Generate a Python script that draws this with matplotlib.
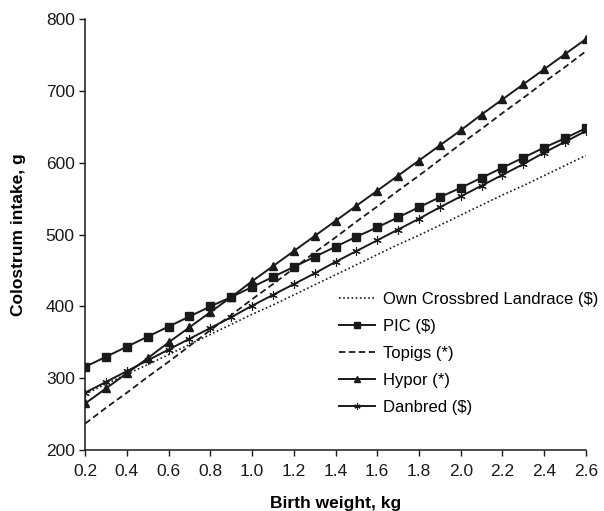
import matplotlib.pyplot as plt

plt.rcParams['font.family'] = ['Liberation Sans', 'DejaVu Sans']

# birth weight (kg)
weight = [0.2, 0.3, 0.4, 0.5, 0.6, 0.7, 0.8, 0.9, 1.0, 1.1, 1.2, 1.3, 1.4,
          1.5, 1.6, 1.7, 1.8, 1.9, 2.0, 2.1, 2.2, 2.3, 2.4, 2.5, 2.6]

# colostrum intake (g)
own_landrace = [278, 292, 306, 319, 333, 347, 361, 375, 389, 402, 416, 430, 444,
                458, 472, 486, 499, 513, 527, 541, 555, 568, 582, 596, 610]
pic = [316, 330, 344, 358, 372, 386, 400, 413, 427, 441, 455, 469, 483,
       497, 510, 524, 538, 552, 565, 579, 593, 607, 621, 634, 648]
topigs = [237, 259, 280, 302, 323, 345, 367, 388, 410, 431, 453, 475, 496,
          518, 539, 561, 582, 604, 626, 647, 669, 690, 712, 733, 755]
hypor = [265, 286, 307, 328, 350, 371, 392, 413, 435, 456, 477, 498, 519,
         540, 561, 582, 603, 624, 645, 667, 688, 709, 730, 751, 772]
danbred = [280, 295, 310, 325, 340, 355, 370, 385, 401, 416, 431, 446, 462,
           477, 492, 507, 522, 538, 553, 568, 583, 598, 614, 629, 644]

ink = '#1a1a1a'

fig = plt.figure(figsize=(6.04, 5.11), dpi=100)
ax = fig.add_axes([0.141, 0.119, 0.829, 0.844])

ax.plot(weight, own_landrace, color=ink, lw=1.2, ls=(0, (1, 1.5)),
        label='Own Crossbred Landrace ($)')
ax.plot(weight, pic, color=ink, lw=1.4, marker='s', ms=5.5,
        label='PIC ($)')
ax.plot(weight, topigs, color=ink, lw=1.3, ls=(0, (3.5, 2)),
        label='Topigs (*)')
ax.plot(weight, hypor, color=ink, lw=1.4, marker='^', ms=6,
        label='Hypor (*)')
ax.plot(weight, danbred, color=ink, lw=1.4, marker=(6, 2, 0), ms=6,
        mew=0.8, label='Danbred ($)')

ax.set_xlim(0.2, 2.6)
ax.set_ylim(200, 800)
ax.set_xticks([0.2, 0.4, 0.6, 0.8, 1.0, 1.2, 1.4, 1.6, 1.8, 2.0, 2.2, 2.4, 2.6])
ax.set_xticklabels(['%.1f' % v for v in ax.get_xticks()])
ax.set_yticks(range(200, 801, 100))
ax.tick_params(direction='out', length=4, width=1, labelsize=12.5, colors=ink)
ax.tick_params(axis='x', pad=6)

for side in ['top', 'right']:
    ax.spines[side].set_visible(False)
for side in ['left', 'bottom']:
    ax.spines[side].set_linewidth(1.1)
    ax.spines[side].set_color(ink)

ax.set_xlabel('Birth weight, kg', fontsize=12.5, fontweight='bold', labelpad=12)
ax.set_ylabel('Colostrum intake, g', fontsize=12.5, fontweight='bold', labelpad=14)

ax.legend(loc='upper left', bbox_to_anchor=(0.494, 0.383), frameon=False,
          fontsize=12, handlelength=2.15, labelspacing=0.72, handletextpad=0.47,
          borderaxespad=0, markerscale=0.75)

fig.savefig('out.png', dpi=100)
